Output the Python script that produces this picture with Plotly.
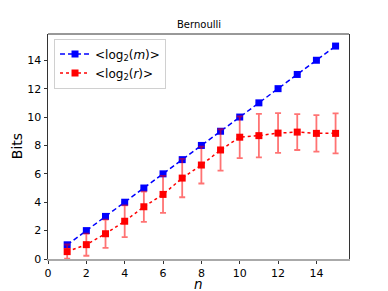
import plotly.graph_objects as go

n_vals = list(range(1, 16))
log2_m = [1, 2, 3, 4, 5, 6, 7, 8, 9, 10, 11, 12, 13, 14, 15]
log2_r = [0.52, 1.01, 1.78, 2.66, 3.68, 4.55, 5.70, 6.62, 7.68, 8.58, 8.69, 8.87, 8.94, 8.85, 8.85]
log2_r_err = [0.5, 0.78, 1.0, 1.12, 1.06, 1.3, 1.35, 1.3, 1.46, 1.47, 1.53, 1.4, 1.26, 1.28, 1.41]

FONT = "DejaVu Sans"

fig = go.Figure()
fig.add_trace(go.Scatter(
    x=n_vals, y=log2_m, mode="lines+markers",
    name="&lt;log<sub>2</sub>(<i>m</i>)&gt;",
    line=dict(color="blue", dash="5px,3px", width=1.5),
    marker=dict(symbol="square", size=7, color="blue"),
    error_y=dict(type="data", array=[0] * 15, color="blue", thickness=1.2, width=3),
))
fig.add_trace(go.Scatter(
    x=n_vals, y=log2_r, mode="lines+markers",
    name="&lt;log<sub>2</sub>(<i>r</i>)&gt;",
    line=dict(color="red", dash="dot", width=1.5),
    marker=dict(symbol="square", size=7, color="red"),
    error_y=dict(type="data", array=log2_r_err, color="rgba(255,0,0,0.55)", thickness=1.8, width=3),
))

fig.update_layout(
    width=388, height=291,
    margin=dict(l=48, r=39, t=34, b=32),
    paper_bgcolor="white", plot_bgcolor="white",
    font=dict(family=FONT, color="black", size=11),
    title=dict(text="Bernoulli", x=0.513, xanchor="center", y=0.905, yanchor="bottom",
               font=dict(size=10, family=FONT)),
    showlegend=True,
    legend=dict(x=0.02, y=0.98, xanchor="left", yanchor="top",
                bgcolor="rgba(255,255,255,0.8)", bordercolor="#d0d0d0", borderwidth=1,
                font=dict(size=12, family=FONT), itemwidth=30, tracegroupgap=0),
    xaxis=dict(range=[0, 15.7], tickvals=[0, 2, 4, 6, 8, 10, 12, 14], automargin=False,
               showgrid=False, zeroline=False, showline=True, linecolor="#aaaaaa", linewidth=2,
               ticks="outside", ticklen=3, tickcolor="#333", mirror=False,
               tickfont=dict(size=11)),
    yaxis=dict(range=[0, 15.85], tickvals=[0, 2, 4, 6, 8, 10, 12, 14], automargin=False,
               showgrid=False, zeroline=False, showline=True, linecolor="#333", linewidth=1,
               mirror=True, ticks="outside", ticklen=3.5, tickcolor="#333",
               tickfont=dict(size=11)),
)
fig.add_shape(type="line", xref="paper", yref="paper", x0=0, x1=1, y0=1, y1=1,
              line=dict(color="#333", width=1))
fig.add_annotation(text="<i>n</i>", xref="paper", yref="paper", x=0.5, y=-0.113,
                   xanchor="center", yanchor="middle", showarrow=False, borderpad=0,
                   font=dict(size=13.5, family=FONT))
fig.add_annotation(text="Bits", xref="paper", yref="paper", x=-0.104, y=0.5,
                   xanchor="center", yanchor="middle", showarrow=False, textangle=-90,
                   font=dict(size=14, family=FONT))

fig.write_html("out.html", config={"displayModeBar": False},
               post_script="document.body.style.margin='0px';")
